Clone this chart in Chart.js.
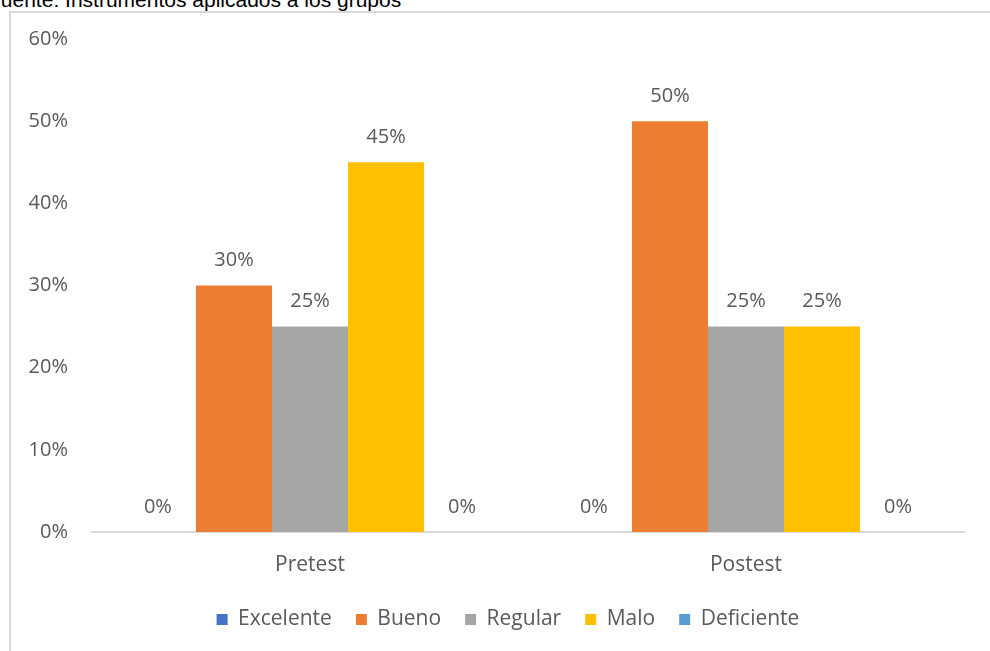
<!DOCTYPE html>
<html>
<head>
<meta charset="utf-8">
<script src="https://cdn.jsdelivr.net/npm/chart.js@4/dist/chart.umd.min.js"></script>
<style>
  html, body { margin: 0; padding: 0; background: #fff; }
  #wrap { position: relative; width: 990px; height: 651px; overflow: hidden; }
  #cap { position: absolute; left: -12px; top: -11px; font: 21px/21px "Liberation Sans", Arial, sans-serif; color: #000; white-space: nowrap; }
  #frame { position: absolute; left: 9px; top: 11px; width: 1100px; height: 800px; border: 2px solid #d9d9d9; box-sizing: border-box; pointer-events: none; }
  #c { position: absolute; left: 0; top: 0; }
</style>
</head>
<body>
<div id="wrap">
  <div id="cap">Fuente: Instrumentos aplicados a los grupos</div>
  <div id="frame"></div>
  <canvas id="c" width="990" height="651"></canvas>
</div>
<script>
const categories = ["Pretest", "Postest"];
const seriesNames = ["Excelente", "Bueno", "Regular", "Malo", "Deficiente"];
const excelente = [0, 0];
const bueno = [30, 50];
const regular = [25, 25];
const malo = [45, 25];
const deficiente = [0, 0];
const yTicks = [0, 10, 20, 30, 40, 50, 60];
const colors = ["#4472C4", "#ED7D31", "#A5A5A5", "#FFC000", "#5B9BD5"];

const FONT = "'Open Sans', 'Noto Sans', sans-serif";
const TXT = "#595959";

const seriesValues = [excelente, bueno, regular, malo, deficiente];

const labelPlugin = {
  id: 'barLabels',
  afterLayout(chart) {
    // centre the legend under the plot like the original
    if (chart.legend) { chart.legend.left += 26; chart.legend.right += 26; }
  },
  afterDatasetsDraw(chart) {
    const ctx = chart.ctx;
    ctx.save();
    ctx.font = "20px " + FONT;
    ctx.fillStyle = TXT;
    ctx.textAlign = 'center';
    ctx.textBaseline = 'middle';
    chart.data.datasets.forEach((ds, i) => {
      const meta = chart.getDatasetMeta(i);
      meta.data.forEach((el, j) => {
        ctx.fillText(ds.data[j] + '%', el.x, el.y - 25);
      });
    });
    ctx.restore();
  }
};

new Chart(document.getElementById('c'), {
  type: 'bar',
  data: {
    labels: categories,
    datasets: seriesNames.map((n, i) => ({
      label: n,
      data: seriesValues[i],
      backgroundColor: colors[i],
      borderWidth: 0,
      barPercentage: 1.0,
      categoryPercentage: 0.872
    }))
  },
  options: {
    responsive: false,
    animation: false,
    layout: { padding: { top: 39, right: 26, bottom: 11, left: 0 } },
    scales: {
      x: {
        grid: { display: false },
        border: { display: true, color: '#d9d9d9', width: 2 },
        ticks: { color: TXT, font: { family: FONT, size: 21 }, padding: 12 },
        afterFit(s) { s.height = 53; }
      },
      y: {
        min: 0, max: 60,
        afterBuildTicks(s) { s.ticks = yTicks.map(v => ({ value: v })); },
        grid: { display: false, drawTicks: false },
        border: { display: false },
        ticks: { color: TXT, font: { family: FONT, size: 20 }, padding: 24, callback: v => v + '%' },
        afterFit(s) { s.width = 92; }
      }
    },
    plugins: {
      legend: {
        position: 'bottom',
        labels: { color: TXT, font: { family: FONT, size: 21 }, boxWidth: 11, boxHeight: 11, padding: 24 }
      },
      tooltip: { enabled: false }
    }
  },
  plugins: [labelPlugin]
});
</script>
</body>
</html>
